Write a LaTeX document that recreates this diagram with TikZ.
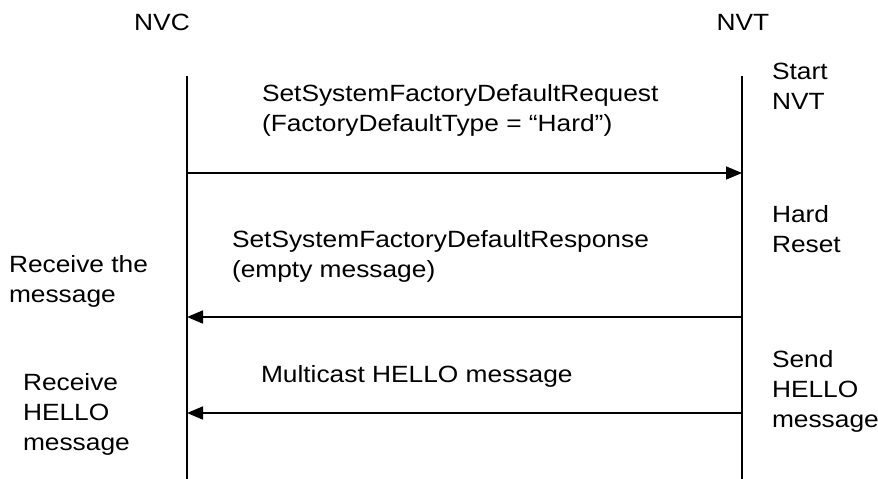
\documentclass[tikz,border=0pt]{standalone}
\usepackage{fontspec}
\setmainfont{Liberation Sans}[FakeStretch=1.12]
\usetikzlibrary{arrows.meta}
\begin{document}
\begin{tikzpicture}[x=1bp,y=-1bp,
  lbl/.style={inner sep=0pt, outer sep=0pt, align=left, anchor=north west,
    font=\fontsize{23.5bp}{30bp}\selectfont},
  hdr/.style={inner sep=0pt, outer sep=0pt, anchor=base,
    font=\fontsize{23.5bp}{30bp}\selectfont},
  life/.style={line width=1.6bp, black},
  msg/.style={line width=1.6bp, black, -{Triangle[length=16bp,width=13bp]}}]
\useasboundingbox[fill=white] (0,0) rectangle (878,479);
% headers
\node[hdr] (nvc) at (162,31) {NVC};
\node[hdr] (nvt) at (743,31) {NVT};
% lifelines
\coordinate (nvcTop) at (187,76);
\coordinate (nvcBot) at (187,479);
\coordinate (nvtTop) at (742,76);
\coordinate (nvtBot) at (742,479);
\draw[life] (nvcTop) -- (nvcBot);
\draw[life] (nvtTop) -- (nvtBot);
% message end points
\coordinate (m1s) at (187,173);
\coordinate (m1e) at (742,173);
\coordinate (m2s) at (742,317);
\coordinate (m2e) at (187,317);
\coordinate (m3s) at (742,413);
\coordinate (m3e) at (187,413);
\draw[msg] (m1s) -- (m1e);
\draw[msg] (m2s) -- (m2e);
\draw[msg] (m3s) -- (m3e);
% message labels
\node[lbl] (req) at (262,84) {SetSystemFactoryDefaultRequest\\(FactoryDefaultType = “Hard”)};
\node[lbl] (resp) at (232,230) {SetSystemFactoryDefaultResponse\\(empty message)};
\node[lbl] (hello) at (261,365) {Multicast HELLO message};
% NVT side notes
\node[lbl] (start) at (772,63) {Start\\NVT};
\node[lbl] (hard) at (772,205) {Hard\\Reset};
\node[lbl] (send) at (772,350) {Send\\HELLO\\message};
% NVC side notes
\node[lbl] (recv1) at (9,255) {Receive the\\message};
\node[lbl] (recv2) at (23,373) {Receive\\HELLO\\message};
\end{tikzpicture}
\end{document}
